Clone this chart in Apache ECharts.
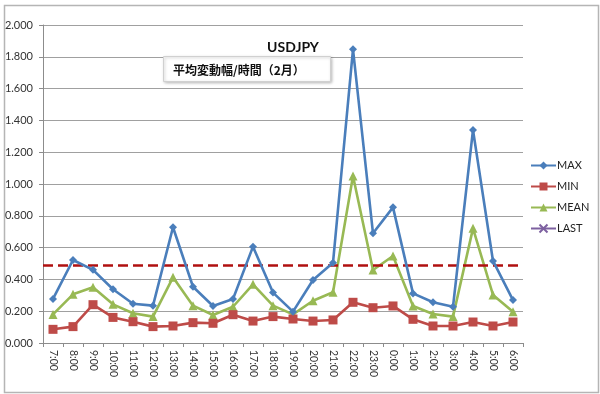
<!DOCTYPE html>
<html><head><meta charset="utf-8">
<script src="https://cdn.jsdelivr.net/npm/echarts@6/dist/echarts.min.js"></script>
<style>html,body{margin:0;padding:0;background:#fff}#c{width:600px;height:394px}</style>
</head><body><div id="c"></div>
<script>
var categories = ['7:00','8:00','9:00','10:00','11:00','12:00','13:00','14:00','15:00','16:00','17:00','18:00','19:00','20:00','21:00','22:00','23:00','0:00','1:00','2:00','3:00','4:00','5:00','6:00'];
var maxValues  = [0.277,0.522,0.460,0.338,0.247,0.235,0.728,0.354,0.233,0.277,0.606,0.317,0.197,0.396,0.505,1.847,0.690,0.853,0.312,0.256,0.228,1.340,0.516,0.270];
var minValues  = [0.086,0.103,0.241,0.161,0.134,0.103,0.107,0.128,0.124,0.178,0.138,0.166,0.151,0.138,0.145,0.256,0.222,0.233,0.149,0.107,0.107,0.132,0.107,0.132];
var meanValues = [0.180,0.306,0.350,0.243,0.187,0.166,0.413,0.235,0.176,0.228,0.369,0.235,0.180,0.266,0.319,1.050,0.459,0.547,0.233,0.182,0.166,0.721,0.302,0.197];
var lastValues = [];
var avgLevel = 0.495;
var yTicks = {min: 0, max: 2, interval: 0.2};
var titleText = 'USDJPY';
var subTitleText = '平均変動幅/時間（2月）';

var latin = 'Lato, "Open Sans", "Noto Sans CJK JP", sans-serif';
var xSym = 'path://M0,0 L10,10 M10,0 L0,10 M0,0 L10,10 Z';
var chart = echarts.init(document.getElementById('c'), null, {renderer: 'canvas'});
chart.setOption({
  animation: false,
  backgroundColor: '#ffffff',
  grid: {left: 43, right: 77, top: 25, bottom: 51, containLabel: false},
  title: {
    text: titleText, left: 288, top: 35, textAlign: 'center',
    textStyle: {fontFamily: latin, fontWeight: 'bold', fontSize: 14, color: '#111'}
  },
  graphic: [
    {type: 'rect', left: 2, top: 3, shape: {width: 594, height: 387}, style: {fill: 'none', stroke: '#b5b5b5', lineWidth: 1.5}, z: 0},
    {type: 'rect', left: 163, top: 56, shape: {width: 167, height: 25}, style: {fill: '#fff', stroke: '#d0d0d0', lineWidth: 1, shadowColor: 'rgba(0,0,0,0.25)', shadowBlur: 3, shadowOffsetX: 1, shadowOffsetY: 1}, z: 50},
    {type: 'text', left: 173, top: 64, style: {text: subTitleText, font: 'bold 12px "Noto Sans CJK JP", sans-serif', fill: '#111'}, z: 51}
  ],
  legend: {
    orient: 'vertical', left: 530, top: 160, padding: 0, itemWidth: 25, itemHeight: 10, itemGap: 10,
    textStyle: {fontFamily: latin, fontSize: 11, color: '#222', padding: [0,0,0,-4]},
    data: ['MAX','MIN','MEAN','LAST']
  },
  xAxis: {
    type: 'category', data: categories, boundaryGap: true,
    axisLine: {lineStyle: {color: '#8c8c8c', width: 1}},
    axisTick: {show: true, length: 4, lineStyle: {color: '#8c8c8c'}},
    axisLabel: {rotate: -90, interval: 0, margin: 7, fontFamily: latin, fontSize: 10.5, color: '#333'}
  },
  yAxis: {
    type: 'value', min: yTicks.min, max: yTicks.max, interval: yTicks.interval,
    axisLine: {show: true, lineStyle: {color: '#8c8c8c', width: 1}},
    axisTick: {show: true, length: 4, lineStyle: {color: '#8c8c8c'}},
    splitLine: {lineStyle: {color: '#a0a0a0', width: 1.2}},
    axisLabel: {margin: 10, fontFamily: latin, fontSize: 11, color: '#333', formatter: function(v){return v.toFixed(3);}}
  },
  series: [
    {name: 'MAX', type: 'line', data: maxValues, symbol: 'diamond', symbolSize: 8,
     lineStyle: {color: '#4a7ebb', width: 2.6}, itemStyle: {color: '#4a7ebb'}, z: 5,
     markLine: {silent: true, symbol: 'none', label: {show: false},
       lineStyle: {color: '#b01010', type: [10, 5], width: 2.5},
       data: [{yAxis: avgLevel}]}},
    {name: 'MIN', type: 'line', data: minValues, symbol: 'rect', symbolSize: 9,
     lineStyle: {color: '#be4b48', width: 2.6}, itemStyle: {color: '#be4b48'}, z: 4},
    {name: 'MEAN', type: 'line', data: meanValues, symbol: 'triangle', symbolSize: 9,
     lineStyle: {color: '#98b954', width: 2.6}, itemStyle: {color: '#98b954'}, z: 3},
    {name: 'LAST', type: 'line', data: lastValues, symbol: xSym, symbolSize: 8,
     lineStyle: {color: '#7d60a0', width: 2.5}, itemStyle: {color: '#7d60a0', borderColor: '#7d60a0', borderWidth: 1.5}, z: 2}
  ]
});
</script></body></html>
